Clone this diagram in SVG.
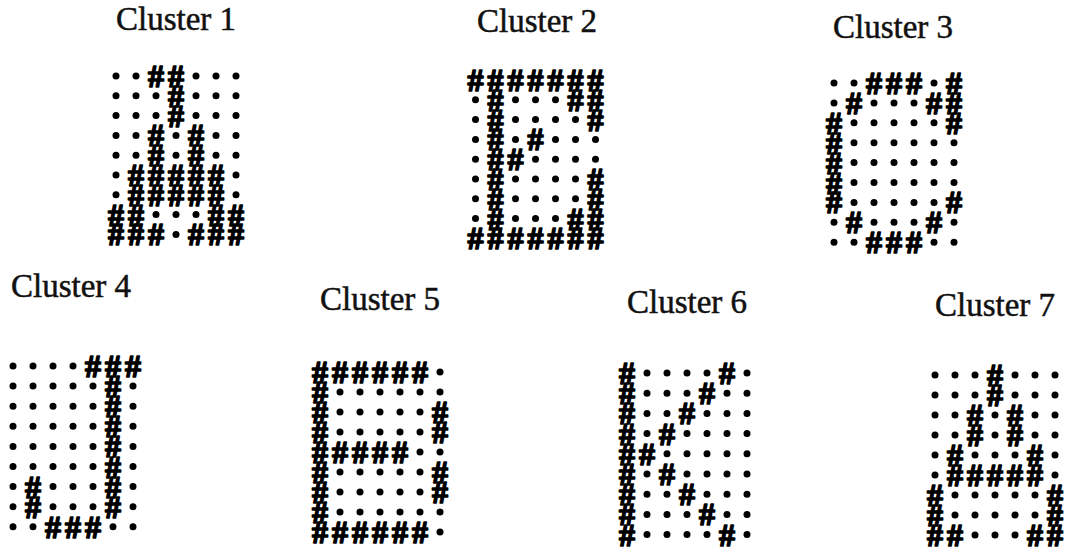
<svg xmlns="http://www.w3.org/2000/svg" xmlns:xlink="http://www.w3.org/1999/xlink" width="1070" height="552" viewBox="0 0 1070 552">
<style>
.t{font-family:"Liberation Serif","Times New Roman",serif;font-size:33px;fill:#111;stroke:#111;stroke-width:0.5}
.h{font-family:"Liberation Serif","Times New Roman",serif;font-weight:bold;font-size:32px;text-anchor:middle;fill:#000;stroke:#000;stroke-width:1.6;stroke-linejoin:round}
.d{fill:#000}
</style>
<defs>
<text id="h" class="h" x="0" y="11">#</text>
<circle id="d" class="d" cx="0" cy="0" r="3.5"/>
</defs>
<rect width="1070" height="552" fill="#fff"/>
<g id="connectors"/>

<g id="cluster1">
<text class="t" x="116" y="30">Cluster 1</text>
<g transform="translate(116,76)">
<g><use href="#d" x="0"/><use href="#d" x="20"/><use href="#h" x="40"/><use href="#h" x="60"/><use href="#d" x="80"/><use href="#d" x="100"/><use href="#d" x="120"/></g>
<g transform="translate(0,19.8)"><use href="#d" x="0"/><use href="#d" x="20"/><use href="#d" x="40"/><use href="#h" x="60"/><use href="#d" x="80"/><use href="#d" x="100"/><use href="#d" x="120"/></g>
<g transform="translate(0,39.6)"><use href="#d" x="0"/><use href="#d" x="20"/><use href="#d" x="40"/><use href="#h" x="60"/><use href="#d" x="80"/><use href="#d" x="100"/><use href="#d" x="120"/></g>
<g transform="translate(0,59.4)"><use href="#d" x="0"/><use href="#d" x="20"/><use href="#h" x="40"/><use href="#d" x="60"/><use href="#h" x="80"/><use href="#d" x="100"/><use href="#d" x="120"/></g>
<g transform="translate(0,79.2)"><use href="#d" x="0"/><use href="#d" x="20"/><use href="#h" x="40"/><use href="#d" x="60"/><use href="#h" x="80"/><use href="#d" x="100"/><use href="#d" x="120"/></g>
<g transform="translate(0,99)"><use href="#d" x="0"/><use href="#h" x="20"/><use href="#h" x="40"/><use href="#h" x="60"/><use href="#h" x="80"/><use href="#h" x="100"/><use href="#d" x="120"/></g>
<g transform="translate(0,118.8)"><use href="#d" x="0"/><use href="#h" x="20"/><use href="#h" x="40"/><use href="#h" x="60"/><use href="#h" x="80"/><use href="#h" x="100"/><use href="#d" x="120"/></g>
<g transform="translate(0,138.6)"><use href="#h" x="0"/><use href="#h" x="20"/><use href="#d" x="40"/><use href="#d" x="60"/><use href="#d" x="80"/><use href="#h" x="100"/><use href="#h" x="120"/></g>
<g transform="translate(0,158.4)"><use href="#h" x="0"/><use href="#h" x="20"/><use href="#h" x="40"/><use href="#d" x="60"/><use href="#h" x="80"/><use href="#h" x="100"/><use href="#h" x="120"/></g>
</g>
</g>

<g id="cluster2">
<text class="t" x="477" y="32">Cluster 2</text>
<g transform="translate(475.5,80)">
<g><use href="#h" x="0"/><use href="#h" x="20"/><use href="#h" x="40"/><use href="#h" x="60"/><use href="#h" x="80"/><use href="#h" x="100"/><use href="#h" x="120"/></g>
<g transform="translate(0,19.8)"><use href="#d" x="0"/><use href="#h" x="20"/><use href="#d" x="40"/><use href="#d" x="60"/><use href="#d" x="80"/><use href="#h" x="100"/><use href="#h" x="120"/></g>
<g transform="translate(0,39.6)"><use href="#d" x="0"/><use href="#h" x="20"/><use href="#d" x="40"/><use href="#d" x="60"/><use href="#d" x="80"/><use href="#d" x="100"/><use href="#h" x="120"/></g>
<g transform="translate(0,59.4)"><use href="#d" x="0"/><use href="#h" x="20"/><use href="#d" x="40"/><use href="#h" x="60"/><use href="#d" x="80"/><use href="#d" x="100"/><use href="#d" x="120"/></g>
<g transform="translate(0,79.2)"><use href="#d" x="0"/><use href="#h" x="20"/><use href="#h" x="40"/><use href="#d" x="60"/><use href="#d" x="80"/><use href="#d" x="100"/><use href="#d" x="120"/></g>
<g transform="translate(0,99)"><use href="#d" x="0"/><use href="#h" x="20"/><use href="#d" x="40"/><use href="#d" x="60"/><use href="#d" x="80"/><use href="#d" x="100"/><use href="#h" x="120"/></g>
<g transform="translate(0,118.8)"><use href="#d" x="0"/><use href="#h" x="20"/><use href="#d" x="40"/><use href="#d" x="60"/><use href="#d" x="80"/><use href="#d" x="100"/><use href="#h" x="120"/></g>
<g transform="translate(0,138.6)"><use href="#d" x="0"/><use href="#h" x="20"/><use href="#d" x="40"/><use href="#d" x="60"/><use href="#d" x="80"/><use href="#h" x="100"/><use href="#h" x="120"/></g>
<g transform="translate(0,158.4)"><use href="#h" x="0"/><use href="#h" x="20"/><use href="#h" x="40"/><use href="#h" x="60"/><use href="#h" x="80"/><use href="#h" x="100"/><use href="#h" x="120"/></g>
</g>
</g>

<g id="cluster3">
<text class="t" x="833" y="38">Cluster 3</text>
<g transform="translate(834,83)">
<g><use href="#d" x="0"/><use href="#d" x="20"/><use href="#h" x="40"/><use href="#h" x="60"/><use href="#h" x="80"/><use href="#d" x="100"/><use href="#h" x="120"/></g>
<g transform="translate(0,19.9)"><use href="#d" x="0"/><use href="#h" x="20"/><use href="#d" x="40"/><use href="#d" x="60"/><use href="#d" x="80"/><use href="#h" x="100"/><use href="#h" x="120"/></g>
<g transform="translate(0,39.8)"><use href="#h" x="0"/><use href="#d" x="20"/><use href="#d" x="40"/><use href="#d" x="60"/><use href="#d" x="80"/><use href="#d" x="100"/><use href="#h" x="120"/></g>
<g transform="translate(0,59.7)"><use href="#h" x="0"/><use href="#d" x="20"/><use href="#d" x="40"/><use href="#d" x="60"/><use href="#d" x="80"/><use href="#d" x="100"/><use href="#d" x="120"/></g>
<g transform="translate(0,79.6)"><use href="#h" x="0"/><use href="#d" x="20"/><use href="#d" x="40"/><use href="#d" x="60"/><use href="#d" x="80"/><use href="#d" x="100"/><use href="#d" x="120"/></g>
<g transform="translate(0,99.5)"><use href="#h" x="0"/><use href="#d" x="20"/><use href="#d" x="40"/><use href="#d" x="60"/><use href="#d" x="80"/><use href="#d" x="100"/><use href="#d" x="120"/></g>
<g transform="translate(0,119.4)"><use href="#h" x="0"/><use href="#d" x="20"/><use href="#d" x="40"/><use href="#d" x="60"/><use href="#d" x="80"/><use href="#d" x="100"/><use href="#h" x="120"/></g>
<g transform="translate(0,139.3)"><use href="#d" x="0"/><use href="#h" x="20"/><use href="#d" x="40"/><use href="#d" x="60"/><use href="#d" x="80"/><use href="#h" x="100"/><use href="#d" x="120"/></g>
<g transform="translate(0,159.2)"><use href="#d" x="0"/><use href="#d" x="20"/><use href="#h" x="40"/><use href="#h" x="60"/><use href="#h" x="80"/><use href="#d" x="100"/><use href="#d" x="120"/></g>
</g>
</g>

<g id="cluster4">
<text class="t" x="11" y="297">Cluster 4</text>
<g transform="translate(13,366)">
<g><use href="#d" x="0"/><use href="#d" x="20"/><use href="#d" x="40"/><use href="#d" x="60"/><use href="#h" x="80"/><use href="#h" x="100"/><use href="#h" x="120"/></g>
<g transform="translate(0,20.1)"><use href="#d" x="0"/><use href="#d" x="20"/><use href="#d" x="40"/><use href="#d" x="60"/><use href="#d" x="80"/><use href="#h" x="100"/><use href="#d" x="120"/></g>
<g transform="translate(0,40.2)"><use href="#d" x="0"/><use href="#d" x="20"/><use href="#d" x="40"/><use href="#d" x="60"/><use href="#d" x="80"/><use href="#h" x="100"/><use href="#d" x="120"/></g>
<g transform="translate(0,60.3)"><use href="#d" x="0"/><use href="#d" x="20"/><use href="#d" x="40"/><use href="#d" x="60"/><use href="#d" x="80"/><use href="#h" x="100"/><use href="#d" x="120"/></g>
<g transform="translate(0,80.4)"><use href="#d" x="0"/><use href="#d" x="20"/><use href="#d" x="40"/><use href="#d" x="60"/><use href="#d" x="80"/><use href="#h" x="100"/><use href="#d" x="120"/></g>
<g transform="translate(0,100.5)"><use href="#d" x="0"/><use href="#d" x="20"/><use href="#d" x="40"/><use href="#d" x="60"/><use href="#d" x="80"/><use href="#h" x="100"/><use href="#d" x="120"/></g>
<g transform="translate(0,120.6)"><use href="#d" x="0"/><use href="#h" x="20"/><use href="#d" x="40"/><use href="#d" x="60"/><use href="#d" x="80"/><use href="#h" x="100"/><use href="#d" x="120"/></g>
<g transform="translate(0,140.7)"><use href="#d" x="0"/><use href="#h" x="20"/><use href="#d" x="40"/><use href="#d" x="60"/><use href="#d" x="80"/><use href="#h" x="100"/><use href="#d" x="120"/></g>
<g transform="translate(0,160.8)"><use href="#d" x="0"/><use href="#d" x="20"/><use href="#h" x="40"/><use href="#h" x="60"/><use href="#h" x="80"/><use href="#d" x="100"/><use href="#d" x="120"/></g>
</g>
</g>

<g id="cluster5">
<text class="t" x="320" y="310">Cluster 5</text>
<g transform="translate(320,372)">
<g><use href="#h" x="0"/><use href="#h" x="20"/><use href="#h" x="40"/><use href="#h" x="60"/><use href="#h" x="80"/><use href="#h" x="100"/><use href="#d" x="120"/></g>
<g transform="translate(0,20)"><use href="#h" x="0"/><use href="#d" x="20"/><use href="#d" x="40"/><use href="#d" x="60"/><use href="#d" x="80"/><use href="#d" x="100"/><use href="#d" x="120"/></g>
<g transform="translate(0,40)"><use href="#h" x="0"/><use href="#d" x="20"/><use href="#d" x="40"/><use href="#d" x="60"/><use href="#d" x="80"/><use href="#d" x="100"/><use href="#h" x="120"/></g>
<g transform="translate(0,60)"><use href="#h" x="0"/><use href="#d" x="20"/><use href="#d" x="40"/><use href="#d" x="60"/><use href="#d" x="80"/><use href="#d" x="100"/><use href="#h" x="120"/></g>
<g transform="translate(0,80)"><use href="#h" x="0"/><use href="#h" x="20"/><use href="#h" x="40"/><use href="#h" x="60"/><use href="#h" x="80"/><use href="#d" x="100"/><use href="#d" x="120"/></g>
<g transform="translate(0,100)"><use href="#h" x="0"/><use href="#d" x="20"/><use href="#d" x="40"/><use href="#d" x="60"/><use href="#d" x="80"/><use href="#d" x="100"/><use href="#h" x="120"/></g>
<g transform="translate(0,120)"><use href="#h" x="0"/><use href="#d" x="20"/><use href="#d" x="40"/><use href="#d" x="60"/><use href="#d" x="80"/><use href="#d" x="100"/><use href="#h" x="120"/></g>
<g transform="translate(0,140)"><use href="#h" x="0"/><use href="#d" x="20"/><use href="#d" x="40"/><use href="#d" x="60"/><use href="#d" x="80"/><use href="#d" x="100"/><use href="#d" x="120"/></g>
<g transform="translate(0,160)"><use href="#h" x="0"/><use href="#h" x="20"/><use href="#h" x="40"/><use href="#h" x="60"/><use href="#h" x="80"/><use href="#h" x="100"/><use href="#d" x="120"/></g>
</g>
</g>

<g id="cluster6">
<text class="t" x="627" y="313">Cluster 6</text>
<g transform="translate(627,373)">
<g><use href="#h" x="0"/><use href="#d" x="20"/><use href="#d" x="40"/><use href="#d" x="60"/><use href="#d" x="80"/><use href="#h" x="100"/><use href="#d" x="120"/></g>
<g transform="translate(0,20.2)"><use href="#h" x="0"/><use href="#d" x="20"/><use href="#d" x="40"/><use href="#d" x="60"/><use href="#h" x="80"/><use href="#d" x="100"/><use href="#d" x="120"/></g>
<g transform="translate(0,40.4)"><use href="#h" x="0"/><use href="#d" x="20"/><use href="#d" x="40"/><use href="#h" x="60"/><use href="#d" x="80"/><use href="#d" x="100"/><use href="#d" x="120"/></g>
<g transform="translate(0,60.6)"><use href="#h" x="0"/><use href="#d" x="20"/><use href="#h" x="40"/><use href="#d" x="60"/><use href="#d" x="80"/><use href="#d" x="100"/><use href="#d" x="120"/></g>
<g transform="translate(0,80.8)"><use href="#h" x="0"/><use href="#h" x="20"/><use href="#d" x="40"/><use href="#d" x="60"/><use href="#d" x="80"/><use href="#d" x="100"/><use href="#d" x="120"/></g>
<g transform="translate(0,101)"><use href="#h" x="0"/><use href="#d" x="20"/><use href="#h" x="40"/><use href="#d" x="60"/><use href="#d" x="80"/><use href="#d" x="100"/><use href="#d" x="120"/></g>
<g transform="translate(0,121.2)"><use href="#h" x="0"/><use href="#d" x="20"/><use href="#d" x="40"/><use href="#h" x="60"/><use href="#d" x="80"/><use href="#d" x="100"/><use href="#d" x="120"/></g>
<g transform="translate(0,141.4)"><use href="#h" x="0"/><use href="#d" x="20"/><use href="#d" x="40"/><use href="#d" x="60"/><use href="#h" x="80"/><use href="#d" x="100"/><use href="#d" x="120"/></g>
<g transform="translate(0,161.6)"><use href="#h" x="0"/><use href="#d" x="20"/><use href="#d" x="40"/><use href="#d" x="60"/><use href="#d" x="80"/><use href="#h" x="100"/><use href="#d" x="120"/></g>
</g>
</g>

<g id="cluster7">
<text class="t" x="935" y="316">Cluster 7</text>
<g transform="translate(935,375)">
<g><use href="#d" x="0"/><use href="#d" x="20"/><use href="#d" x="40"/><use href="#h" x="60"/><use href="#d" x="80"/><use href="#d" x="100"/><use href="#d" x="120"/></g>
<g transform="translate(0,20)"><use href="#d" x="0"/><use href="#d" x="20"/><use href="#d" x="40"/><use href="#h" x="60"/><use href="#d" x="80"/><use href="#d" x="100"/><use href="#d" x="120"/></g>
<g transform="translate(0,40)"><use href="#d" x="0"/><use href="#d" x="20"/><use href="#h" x="40"/><use href="#d" x="60"/><use href="#h" x="80"/><use href="#d" x="100"/><use href="#d" x="120"/></g>
<g transform="translate(0,60)"><use href="#d" x="0"/><use href="#d" x="20"/><use href="#h" x="40"/><use href="#d" x="60"/><use href="#h" x="80"/><use href="#d" x="100"/><use href="#d" x="120"/></g>
<g transform="translate(0,80)"><use href="#d" x="0"/><use href="#h" x="20"/><use href="#d" x="40"/><use href="#d" x="60"/><use href="#d" x="80"/><use href="#h" x="100"/><use href="#d" x="120"/></g>
<g transform="translate(0,100)"><use href="#d" x="0"/><use href="#h" x="20"/><use href="#h" x="40"/><use href="#h" x="60"/><use href="#h" x="80"/><use href="#h" x="100"/><use href="#d" x="120"/></g>
<g transform="translate(0,120)"><use href="#h" x="0"/><use href="#d" x="20"/><use href="#d" x="40"/><use href="#d" x="60"/><use href="#d" x="80"/><use href="#d" x="100"/><use href="#h" x="120"/></g>
<g transform="translate(0,140)"><use href="#h" x="0"/><use href="#d" x="20"/><use href="#d" x="40"/><use href="#d" x="60"/><use href="#d" x="80"/><use href="#d" x="100"/><use href="#h" x="120"/></g>
<g transform="translate(0,160)"><use href="#h" x="0"/><use href="#h" x="20"/><use href="#d" x="40"/><use href="#d" x="60"/><use href="#d" x="80"/><use href="#h" x="100"/><use href="#h" x="120"/></g>
</g>
</g>
</svg>
